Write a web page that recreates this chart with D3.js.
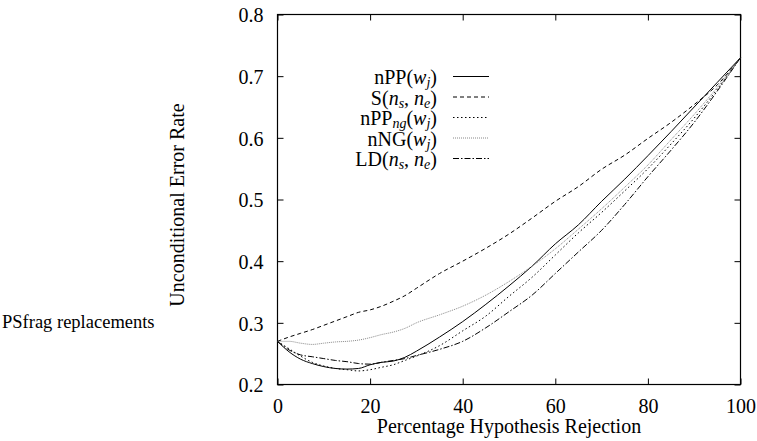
<!DOCTYPE html>
<html><head><meta charset="utf-8">
<script src="https://cdn.jsdelivr.net/npm/d3@7"></script>
<style>
body{margin:0;background:#fff;}
svg text{font-family:"Liberation Serif","Times New Roman",serif !important;fill:#000;}
</style></head>
<body><svg id="c" width="757" height="441"></svg>
<script>
const xVals = [0,2.5,5,7.5,10,12.5,15,17.5,20,22.5,25,27.5,30,35,40,45,50,55,60,65,70,75,80,85,90,95,100];
const nPP   = [0.270,0.253,0.241,0.234,0.229,0.226,0.225,0.226,0.232,0.236,0.238,0.244,0.254,0.277,0.302,0.330,0.360,0.392,0.428,0.459,0.497,0.533,0.571,0.610,0.650,0.690,0.730];
const S     = [0.270,0.277,0.283,0.289,0.296,0.303,0.310,0.317,0.321,0.327,0.335,0.344,0.356,0.380,0.400,0.421,0.444,0.470,0.497,0.521,0.549,0.572,0.599,0.625,0.654,0.686,0.730];
const nPPng = [0.270,0.258,0.246,0.236,0.230,0.226,0.224,0.222,0.224,0.228,0.232,0.239,0.246,0.263,0.287,0.311,0.343,0.374,0.410,0.446,0.479,0.514,0.550,0.590,0.632,0.679,0.730];
const nNG   = [0.270,0.270,0.267,0.265,0.267,0.269,0.270,0.272,0.276,0.281,0.285,0.291,0.300,0.313,0.327,0.345,0.367,0.392,0.420,0.452,0.485,0.520,0.556,0.597,0.638,0.682,0.730];
const LD    = [0.270,0.256,0.248,0.245,0.242,0.239,0.237,0.234,0.233,0.236,0.239,0.242,0.247,0.257,0.270,0.292,0.318,0.345,0.380,0.415,0.450,0.492,0.537,0.580,0.625,0.676,0.730];
const xTicks = [0,20,40,60,80,100];
const yTicks = [0.2,0.3,0.4,0.5,0.6,0.7,0.8];

const series = [
  {name:"nPP", sub:null, arg:["w","j"], values:nPP, dash:null, color:"#000"},
  {name:"S", sub:null, arg:["n","s","n","e"], values:S, dash:"4,3", color:"#000"},
  {name:"nPP", sub:"ng", arg:["w","j"], values:nPPng, dash:"1.5,2.5", color:"#000"},
  {name:"nNG", sub:null, arg:["w","j"], values:nNG, dash:"1,1", color:"#888"},
  {name:"LD", sub:null, arg:["n","s","n","e"], values:LD, dash:"6,2,1.5,2", color:"#000"}
];

const svg = d3.select("#c");
const x = d3.scaleLinear().domain([0,100]).range([277.5,740.5]);
const y = d3.scaleLinear().domain([0.2,0.8]).range([384.5,14.5]);
const fs = 20;

// axes
const gB = svg.append("g").attr("transform",`translate(0,${y(0.2)})`)
  .call(d3.axisBottom(x).tickValues(xTicks).tickSize(-6).tickSizeOuter(0).tickPadding(14).tickFormat(d3.format("d")));
const gT = svg.append("g").attr("transform",`translate(0,${y(0.8)})`)
  .call(d3.axisTop(x).tickValues(xTicks).tickSize(-6).tickSizeOuter(0).tickFormat(""));
const gL = svg.append("g").attr("transform",`translate(${x(0)},0)`)
  .call(d3.axisLeft(y).tickValues(yTicks).tickSize(-6).tickSizeOuter(0).tickPadding(14).tickFormat(d3.format(".1f")));
const gR = svg.append("g").attr("transform",`translate(${x(100)},0)`)
  .call(d3.axisRight(y).tickValues(yTicks).tickSize(-6).tickSizeOuter(0).tickFormat(""));
[gB,gT,gL,gR].forEach(g=>{
  g.attr("font-family",null).attr("font-size",null);
  g.select(".domain").remove();
  g.selectAll("line").attr("stroke","#000");
  g.selectAll("text").attr("font-size",fs).attr("fill","#000");
});
gL.selectAll("text").attr("dy","0.37em");
svg.append("rect").attr("x",x(0)).attr("y",y(0.8)).attr("width",x(100)-x(0)).attr("height",y(0.2)-y(0.8))
  .attr("fill","none").attr("stroke","#000").attr("stroke-width",1.2);

// lines
const line = d3.line().x((d,i)=>x(xVals[i])).y(d=>y(d)).curve(d3.curveMonotoneX);
series.forEach(s=>{
  svg.append("path").attr("d",line(s.values)).attr("fill","none").attr("stroke",s.color)
    .attr("stroke-width",1).attr("stroke-dasharray",s.dash);
});

// legend
const legY0 = 76.5, legDy = 20.5, subDy = 3;
series.forEach((s,i)=>{
  const yy = legY0 + i*legDy;
  const t = svg.append("text").attr("x",437).attr("y",yy+7.5).attr("text-anchor","end").attr("font-size",fs);
  t.append("tspan").text(s.name);
  if (s.sub) t.append("tspan").attr("font-style","italic").attr("font-size",fs*0.7).attr("dy",subDy).text(s.sub);
  t.append("tspan").attr("dy", s.sub ? -subDy : 0).text("(");
  t.append("tspan").attr("font-style","italic").text(s.arg[0]);
  t.append("tspan").attr("font-style","italic").attr("font-size",fs*0.7).attr("dy",subDy).text(s.arg[1]);
  if (s.arg.length===4){
    t.append("tspan").attr("dy",-subDy).text(", ");
    t.append("tspan").attr("font-style","italic").text(s.arg[2]);
    t.append("tspan").attr("font-style","italic").attr("font-size",fs*0.7).attr("dy",subDy).text(s.arg[3]);
  }
  t.append("tspan").attr("dy",-subDy).text(")");
  svg.append("line").attr("x1",453).attr("x2",489).attr("y1",yy).attr("y2",yy)
    .attr("stroke",s.color).attr("stroke-width",1).attr("stroke-dasharray",s.dash);
});

// axis titles
svg.append("text").attr("x",(x(0)+x(100))/2).attr("y",433).attr("text-anchor","middle").attr("font-size",fs)
  .text("Percentage Hypothesis Rejection");
svg.append("text").attr("transform",`translate(184,205) rotate(-90)`).attr("text-anchor","middle").attr("font-size",fs)
  .text("Unconditional Error Rate");
svg.append("text").attr("x",2).attr("y",328).attr("font-size",18.5).text("PSfrag replacements");
</script></body></html>
